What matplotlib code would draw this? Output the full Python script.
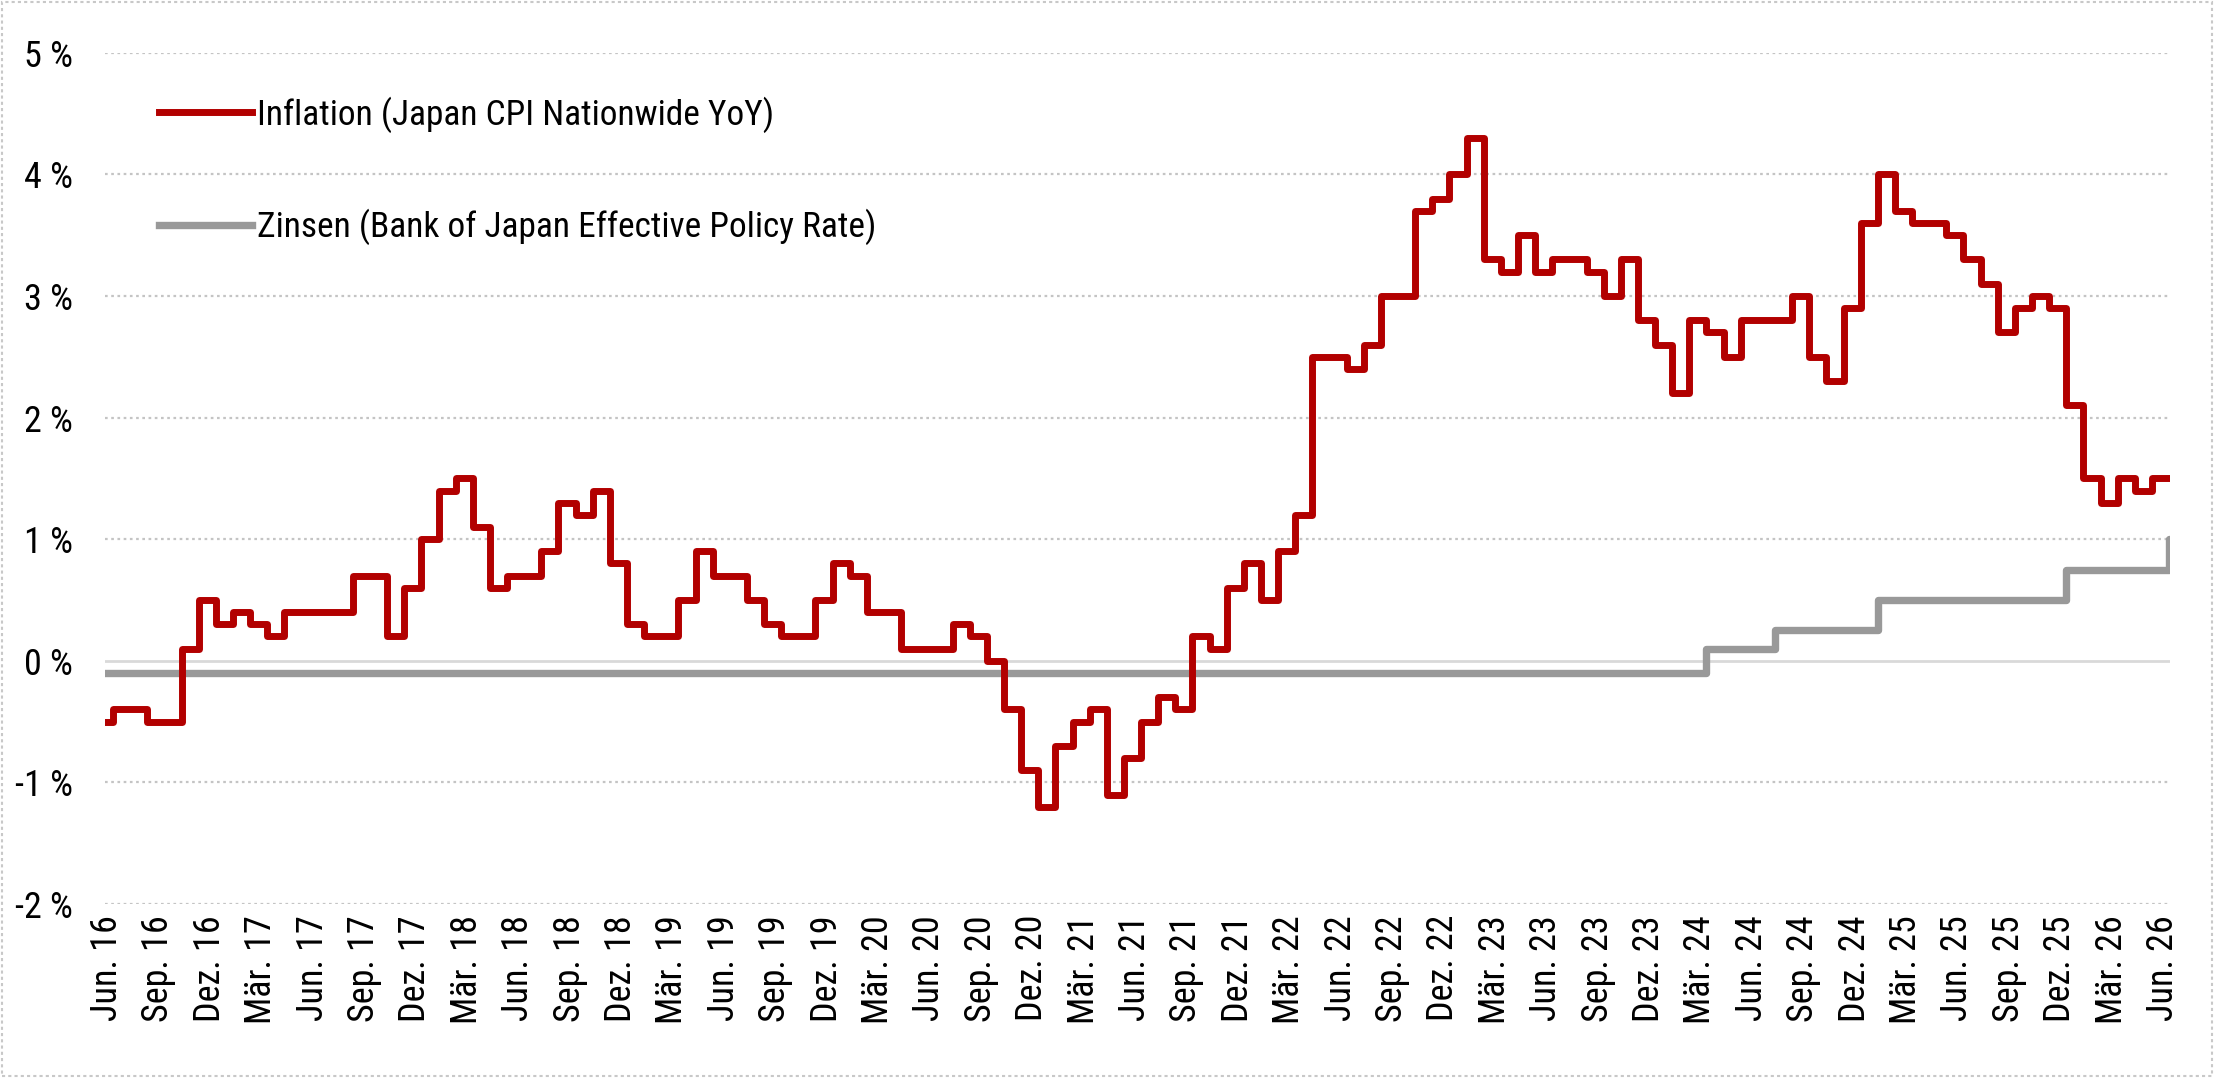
import matplotlib
matplotlib.use("Agg")
import matplotlib.pyplot as plt
from matplotlib.patches import Rectangle
from matplotlib import font_manager
import numpy as np

installed = {f.name for f in font_manager.fontManager.ttflist}
narrow = [f for f in ["Roboto Condensed", "Liberation Sans Narrow", "DejaVu Sans Condensed", "Roboto"]
          if f in installed]
plt.rcParams['font.family'] = narrow + ['DejaVu Sans']

# monthly values, May 2016 ... Jun 2026
inflation = [
    -0.5, -0.4, -0.4, -0.5, -0.5, 0.1, 0.5, 0.3,                      # 2016 (May-Dec)
    0.4, 0.3, 0.2, 0.4, 0.4, 0.4, 0.4, 0.7, 0.7, 0.2, 0.6, 1.0,        # 2017
    1.4, 1.5, 1.1, 0.6, 0.7, 0.7, 0.9, 1.3, 1.2, 1.4, 0.8, 0.3,        # 2018
    0.2, 0.2, 0.5, 0.9, 0.7, 0.7, 0.5, 0.3, 0.2, 0.2, 0.5, 0.8,        # 2019
    0.7, 0.4, 0.4, 0.1, 0.1, 0.1, 0.3, 0.2, 0.0, -0.4, -0.9, -1.2,     # 2020
    -0.7, -0.5, -0.4, -1.1, -0.8, -0.5, -0.3, -0.4, 0.2, 0.1, 0.6, 0.8,  # 2021
    0.5, 0.9, 1.2, 2.5, 2.5, 2.4, 2.6, 3.0, 3.0, 3.7, 3.8, 4.0,        # 2022
    4.3, 3.3, 3.2, 3.5, 3.2, 3.3, 3.3, 3.2, 3.0, 3.3, 2.8, 2.6,        # 2023
    2.2, 2.8, 2.7, 2.5, 2.8, 2.8, 2.8, 3.0, 2.5, 2.3, 2.9, 3.6,        # 2024
    4.0, 3.7, 3.6, 3.6, 3.5, 3.3, 3.1, 2.7, 2.9, 3.0, 2.9, 2.1,        # 2025
    1.5, 1.3, 1.5, 1.4, 1.5, 1.5,                                      # 2026 (Jan-Jun)
]
policy_rate = (
    [-0.1] * 94            # May 2016 - Feb 2024
    + [0.1] * 4            # Mar 2024 - Jun 2024
    + [0.25] * 6           # Jul 2024 - Dec 2024
    + [0.5] * 11           # Jan 2025 - Nov 2025
    + [0.75] * 6           # Dec 2025 - May 2026
    + [1.0]                # Jun 2026
)

tick_labels = []
for yr in range(16, 27):
    for mon in ["Mär.", "Jun.", "Sep.", "Dez."]:
        tick_labels.append(f"{mon} {yr}")
tick_labels = tick_labels[1:-2]   # Jun. 16 ... Jun. 26

y_ticks = [-2, -1, 0, 1, 2, 3, 4, 5]

RED = "#B20000"
GREY = "#999999"

fig = plt.figure(figsize=(22.14, 10.78), dpi=100)
ax = fig.add_axes([0.0474, 0.1614, 0.9327, 0.7897])

# month index: Jun 2016 = 0, values start a bit after the first of the month
x = np.arange(-1, len(inflation) - 1) + 0.35
x_ext = np.append(x, x[-1] + 1)

ax.plot(x_ext, np.append(policy_rate, policy_rate[-1]), drawstyle="steps-post",
        color=GREY, lw=5.3, solid_joinstyle="round",
        label="Zinsen (Bank of Japan Effective Policy Rate)", zorder=3)
ax.plot(x_ext, np.append(inflation, inflation[-1]), drawstyle="steps-post",
        color=RED, lw=5.0, solid_joinstyle="round",
        label="Inflation (Japan CPI Nationwide YoY)", zorder=4)

ax.set_xlim(-0.12, 120.4)
ax.set_ylim(-2, 5)

for v in y_ticks:
    if v == 0:
        ax.axhline(v, color="#D9D9D9", lw=2.0, zorder=1)
    else:
        ax.axhline(v, color="#C4C4C4", lw=1.6, ls=(0, (1.2, 1.6)), zorder=1)

ax.set_yticks(y_ticks)
ax.set_yticklabels([f"{v} %" for v in y_ticks], fontsize=26)
ax.set_xticks(np.arange(0, 121, 3))
ax.set_xticklabels(tick_labels, rotation=90, fontsize=26)
ax.tick_params(axis="y", length=0, pad=23)
ax.tick_params(axis="x", length=0, pad=8)
for s in ax.spines.values():
    s.set_visible(False)

handles, labels = ax.get_legend_handles_labels()
leg = ax.legend(handles[::-1], labels[::-1], loc="upper left",
                bbox_to_anchor=(0.0655, 0.924), bbox_transform=fig.transFigure,
                frameon=False, fontsize=25.5, handlelength=2.62, handletextpad=0.14,
                labelspacing=2.15, borderaxespad=0)

fig.patches.append(Rectangle((0.0008, 0.0015), 0.9984, 0.997, transform=fig.transFigure,
                             fill=False, ls=(0, (1.5, 1.5)), color="#C8C8C8", lw=1.5))

fig.savefig("out.png", dpi=100)
